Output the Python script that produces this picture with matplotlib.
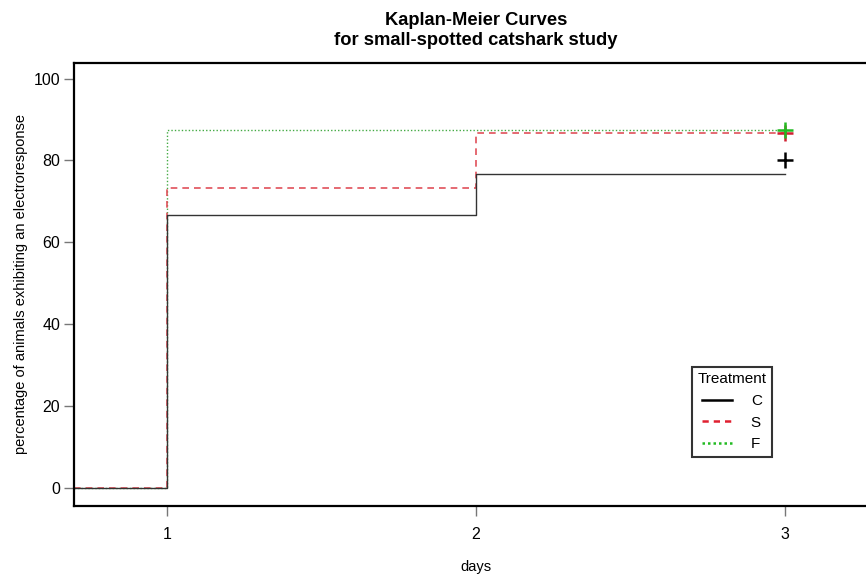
import matplotlib
matplotlib.use("Agg")
import matplotlib.pyplot as plt
from matplotlib.lines import Line2D

plt.rcParams['font.family'] = ['Liberation Sans', 'DejaVu Sans']

# Data (step curves: day, percentage)
days = [0.7, 1, 2, 3]
groups = ['C', 'S', 'F']
C_vals = [0, 66.7, 76.7, 76.7]
S_vals = [0, 73.3, 86.7, 86.7]
F_vals = [0, 87.5, 87.5, 87.5]
censor_day = 3
C_censor = 80.0
S_censor = 86.7
F_censor = 87.5
x_ticks = [1, 2, 3]
y_ticks = [0, 20, 40, 60, 80, 100]

fig = plt.figure(figsize=(8.66, 5.79), dpi=100)
ax = fig.add_axes([74/866, 1-506/579, (885-74)/866, (506-63)/579])

styles = {
    'C': dict(color='#333333', linestyle='-', lw=1.0),
    'S': dict(color='#e0505a', linestyle=(0, (4, 3)), lw=1.2),
    'F': dict(color='#44aa44', linestyle=(0, (1, 1.5)), lw=1.0),
}
vals = {'C': C_vals, 'S': S_vals, 'F': F_vals}
cens = {'C': C_censor, 'S': S_censor, 'F': F_censor}
mcol = {'C': 'black', 'S': '#d02030', 'F': '#22bb22'}

for g in ['F', 'S', 'C']:
    ax.step(days, vals[g], where='post', **styles[g], clip_on=False)
for g in ['C', 'S', 'F']:
    ax.plot([censor_day], [cens[g]], marker='+', color=mcol[g], ms=11, mew=1.8, ls='none')

ax.set_xlim(0.699, 3.3236)
ax.set_ylim(-4.4, 103.8)
ax.set_xticks(x_ticks)
ax.set_yticks(y_ticks)
ax.tick_params(direction='out', length=7, width=1, color='#777777', labelsize=11.5)
ax.tick_params(axis='x', pad=8)
ax.tick_params(axis='y', pad=3)
for s in ax.spines.values():
    s.set_linewidth(1.6)
    s.set_color('black')

ax.set_xlabel('days', fontsize=10.5)
ax.xaxis.set_label_coords((476-74)/811, -(560-506)/443)
ax.set_ylabel('percentage of animals exhibiting an electroresponse', fontsize=10.5, labelpad=4)

fig.suptitle('Kaplan-Meier Curves\nfor small-spotted catshark study', fontsize=13.2,
             fontweight='bold', x=476/866, y=0.98, linespacing=1.25)

leg_styles = {
    'C': dict(color='black', linestyle='-', lw=1.8),
    'S': dict(color='#e02030', linestyle=(0, (2.5, 2)), lw=1.8),
    'F': dict(color='#22bb22', linestyle=(0, (1, 1.2)), lw=1.8),
}
handles = [Line2D([], [], **leg_styles[g]) for g in groups]
leg = ax.legend(handles, groups, title='Treatment', loc='upper left',
                bbox_to_anchor=((692-74)/811, (506-367)/443),
                frameon=True, fancybox=False, edgecolor='black', fontsize=11,
                title_fontsize=11, handlelength=2.0, markerfirst=True,
                borderpad=0.35, labelspacing=0.5, handletextpad=1.2, borderaxespad=0)
leg.get_frame().set_linewidth(1.5)

fig.savefig('out.png', dpi=100)
